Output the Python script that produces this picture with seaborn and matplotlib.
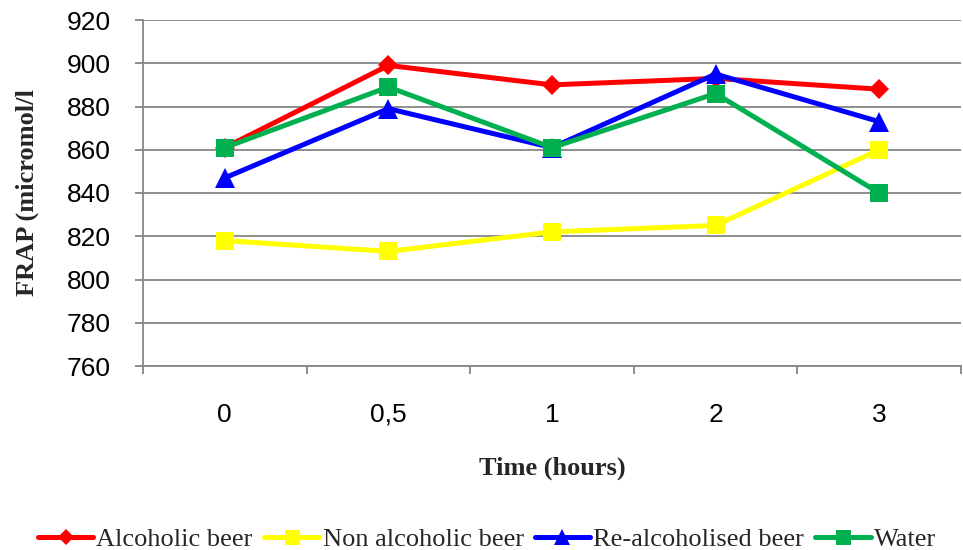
import numpy as np
import pandas as pd
import matplotlib
matplotlib.use("Agg")
import matplotlib.pyplot as plt
import seaborn as sns
from matplotlib.ticker import FixedLocator, MultipleLocator

# Sampling times (hours) and FRAP values (micromol/l) per drink
times = ["0", "0,5", "1", "2", "3"]
alcoholic_beer = [861, 899, 890, 893, 888]
non_alcoholic_beer = [818, 813, 822, 825, 860]
realcoholised_beer = [847, 879, 861, 895, 873]
water = [861, 889, 861, 886, 840]

series_names = ["Alcoholic beer", "Non alcoholic beer", "Re-alcoholised beer", "Water"]
series_values = [alcoholic_beer, non_alcoholic_beer, realcoholised_beer, water]
colors = ["#FF0000", "#FFFF00", "#0000FF", "#00B050"]
markers = ["D", "s", "^", "s"]
marker_sizes = [10.5, 13.5, 14, 13.5]

sns.set_theme(style="white")
plt.rcParams["font.family"] = ["Liberation Sans", "DejaVu Sans"]

fig = plt.figure(figsize=(9.63, 5.5), dpi=100)
ax = fig.add_axes([143 / 963, 1 - 366 / 550, (961 - 143) / 963, (366 - 20) / 550])

pos = np.arange(len(times))
rows = []
for name, vals in zip(series_names, series_values):
    for p, t, v in zip(pos, times, vals):
        rows.append({"pos": p, "time": t, "FRAP": v, "drink": name})
df = pd.DataFrame(rows)

handles = []
for name, col, mk, ms in zip(series_names, colors, markers, marker_sizes):
    sub = df[df["drink"] == name]
    sns.lineplot(data=sub, x="pos", y="FRAP", ax=ax, color=col, lw=3.6,
                 marker=mk, markersize=ms, markeredgewidth=0, legend=False,
                 zorder=3)
    handles.append(ax.lines[-1])

ax.set_xlim(-0.5, len(times) - 0.5)
ax.set_ylim(760, 920)
ax.yaxis.set_major_locator(MultipleLocator(20))
ax.grid(axis="y", color="#868686", lw=1.3)
ax.set_axisbelow(True)

# category labels centred, tick marks on category boundaries
ax.xaxis.set_major_locator(FixedLocator(pos))
ax.set_xticklabels(times)
ax.xaxis.set_minor_locator(FixedLocator(np.arange(-0.5, len(times), 1.0)))
ax.tick_params(axis="x", which="major", length=0, pad=40, labelsize=19, labelcolor="black")
for lab in ax.get_xticklabels():
    lab.set_verticalalignment("baseline")
ax.tick_params(axis="x", which="minor", length=6, width=1.3, color="#868686", direction="out", bottom=True)
ax.tick_params(axis="y", which="major", length=6, width=1.3, color="#868686", direction="out",
               left=True, pad=17, labelsize=19, labelcolor="black")

for side in ["top", "right"]:
    ax.spines[side].set_visible(False)
for side in ["left", "bottom"]:
    ax.spines[side].set_color("#868686")
    ax.spines[side].set_linewidth(1.3)

label_font = dict(family=["Liberation Serif", "DejaVu Serif"], weight="bold", size=19)
ax.set_xlabel("Time (hours)", fontdict=label_font)
ax.xaxis.set_label_coords(0.5, -(468 - 366) / 346, transform=ax.transAxes)
ax.xaxis.label.set_verticalalignment("center")
ax.set_ylabel("FRAP (micromol/l", fontdict=label_font)
ax.yaxis.set_label_coords(-(143 - 27) / 818, 0.5 + (366 - 193 - 173) / 346, transform=ax.transAxes)
ax.yaxis.label.set_verticalalignment("center")

fig.legend(handles, series_names, loc="center", bbox_to_anchor=(487 / 963, 1 - 539 / 550),
           ncol=4, frameon=False, handlelength=2.1, handletextpad=0.12, columnspacing=0.42,
           prop=dict(family=["Liberation Serif", "DejaVu Serif"], size=19),
           markerscale=0.8)

fig.savefig("out.png", dpi=100)
